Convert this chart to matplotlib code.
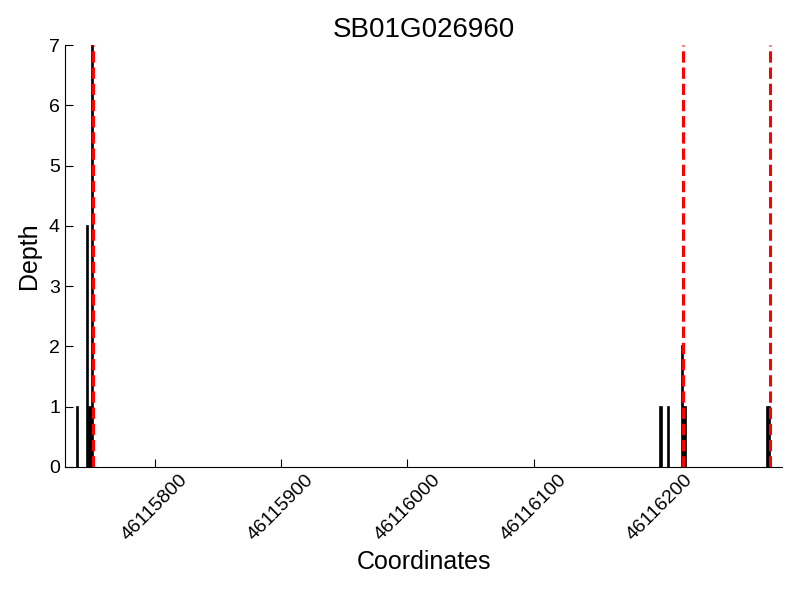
import matplotlib
matplotlib.use("Agg")
import matplotlib.pyplot as plt

title = "SB01G026960"
positions = [46115739, 46115747, 46115749, 46115751, 46116201, 46116207, 46116218, 46116220, 46116285, 46116287]
depths = [1, 4, 1, 7, 1, 1, 2, 1, 1, 1]
boundaries = [46115751, 46116218, 46116287]
xticks = [46115800, 46115900, 46116000, 46116100, 46116200]
yticks = [0, 1, 2, 3, 4, 5, 6, 7]

plt.rcParams['font.family'] = ['Liberation Sans', 'DejaVu Sans']
fig = plt.figure(figsize=(8, 6), dpi=100)
ax = fig.add_axes([0.081, 0.222, 0.897, 0.703])

ax.bar(positions, depths, width=1, color='black', edgecolor='black', linewidth=1.2, align='center')
for b in boundaries:
    ax.axvline(b, color='red', linestyle='--', linewidth=2.2, zorder=3)

ax.set_xlim(min(positions) - 10, max(boundaries) + 10)
ax.set_ylim(0, 7)
ax.set_xticks(xticks)
ax.set_xticklabels([str(t) for t in xticks], rotation=45, fontsize=14)
ax.set_yticks(yticks)
ax.set_yticklabels([str(t) for t in yticks], fontsize=14)
ax.tick_params(direction='in', length=6, top=False, right=False)
ax.spines['top'].set_visible(False)
ax.spines['right'].set_visible(False)
ax.set_xlabel("Coordinates", fontsize=18)
ax.set_ylabel("Depth", fontsize=18, labelpad=6)
ax.set_title(title, fontsize=20)

fig.savefig("out.png", dpi=100)
